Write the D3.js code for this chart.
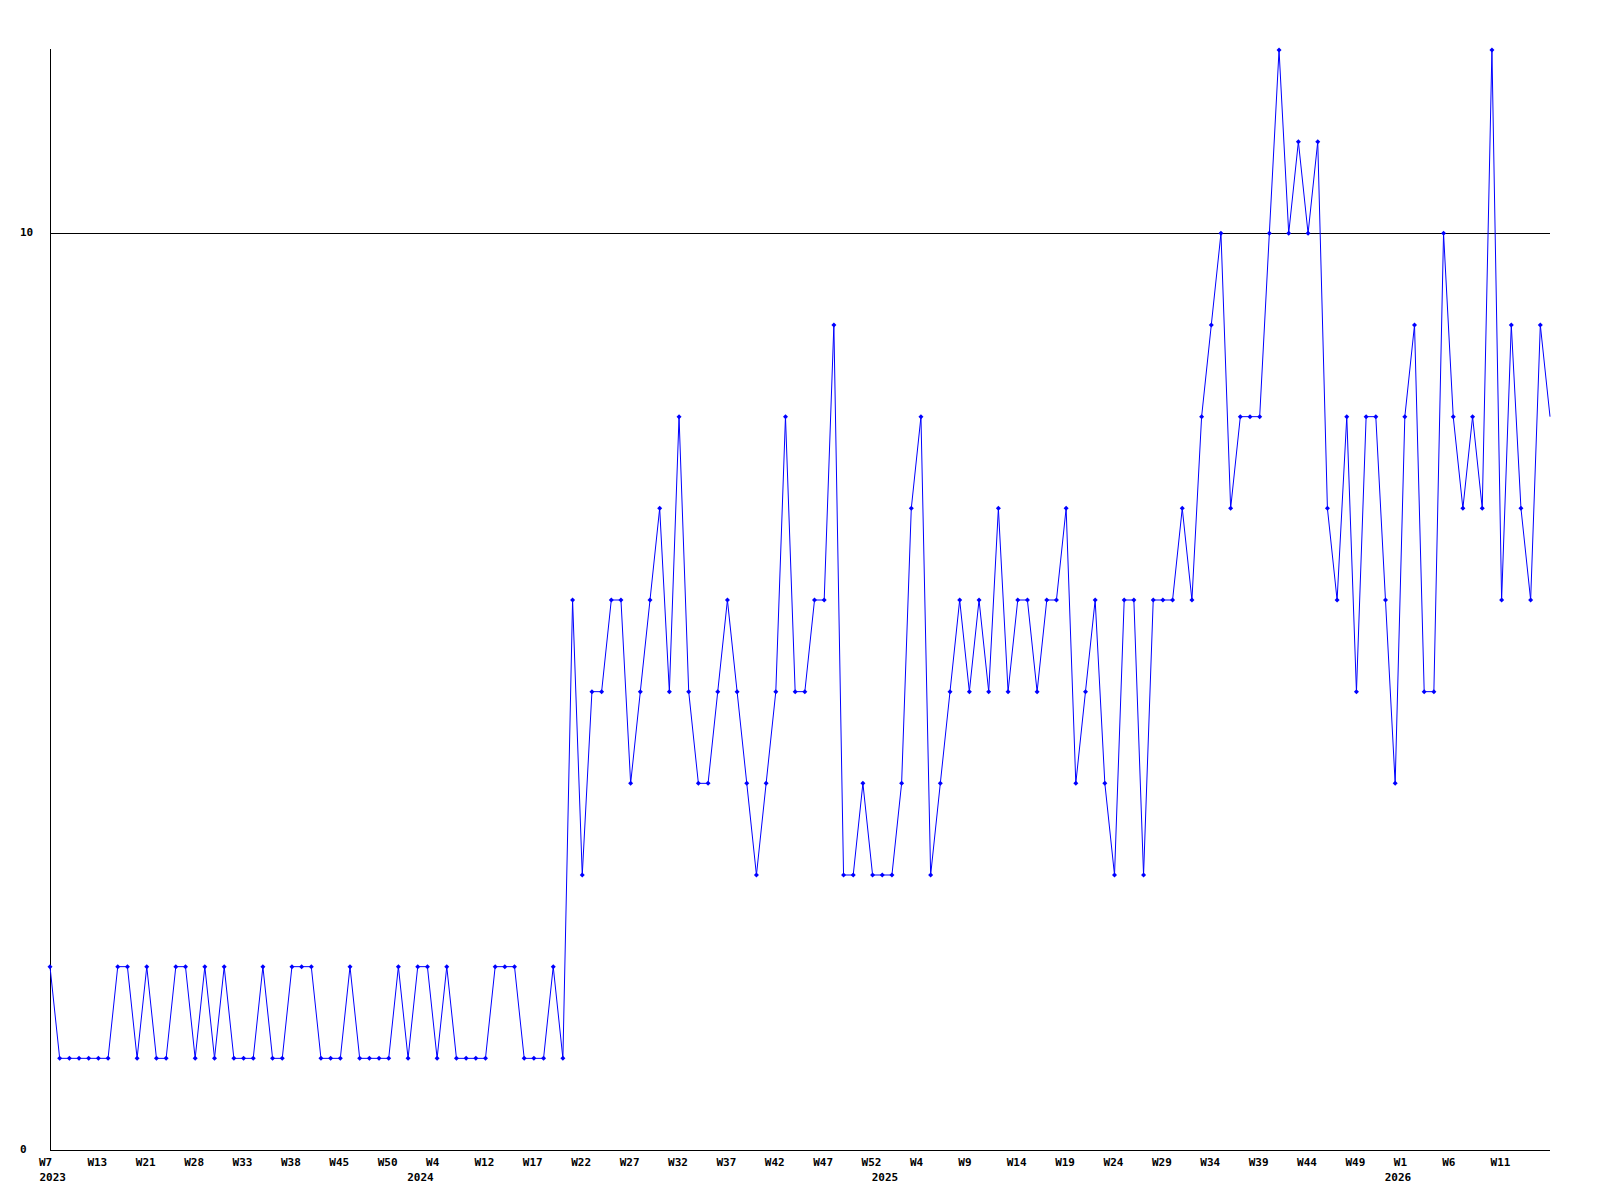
<!DOCTYPE html>
<html>
  <head>
    <meta charset="utf-8">
    <title>Weekly count</title>
    <script src="https://d3js.org/d3.v7.min.js"></script>
    <style>
      body { margin: 0; background: #fff; }
      svg { display: block; }
      .label { font-family: "DejaVu Sans Mono", monospace; font-weight: bold; font-size: 11px; fill: #000; }
    </style>
  </head>
  <body>
    <svg id="chart" width="1600" height="1200"></svg>
    <script>
      // weekly values, 2023 W7 onwards
      var values = [
        2, 1, 1, 1, 1, 1, 1, 2, 2, 1,
        2, 1, 1, 2, 2, 1, 2, 1, 2, 1,
        1, 1, 2, 1, 1, 2, 2, 2, 1, 1,
        1, 2, 1, 1, 1, 1, 2, 1, 2, 2,
        1, 2, 1, 1, 1, 1, 2, 2, 2, 1,
        1, 1, 2, 1, 6, 3, 5, 5, 6, 6,
        4, 5, 6, 7, 5, 8, 5, 4, 4, 5,
        6, 5, 4, 3, 4, 5, 8, 5, 5, 6,
        6, 9, 3, 3, 4, 3, 3, 3, 4, 7,
        8, 3, 4, 5, 6, 5, 6, 5, 7, 5,
        6, 6, 5, 6, 6, 7, 4, 5, 6, 4,
        3, 6, 6, 3, 6, 6, 6, 7, 6, 8,
        9, 10, 7, 8, 8, 8, 10, 12, 10, 11,
        10, 11, 7, 6, 8, 5, 8, 8, 6, 4,
        8, 9, 5, 5, 10, 8, 7, 8, 7, 12,
        6, 9, 7, 6, 9, 8
      ];
      // week labels, one for every fifth point
      var tickLabels = ["W7", "W13", "W21", "W28", "W33", "W38", "W45", "W50",
        "W4", "W12", "W17", "W22", "W27", "W32", "W37", "W42", "W47", "W52",
        "W4", "W9", "W14", "W19", "W24", "W29", "W34", "W39", "W44", "W49",
        "W1", "W6", "W11"];
      var yearLabels = ["2023", "2024", "2025", "2026"];
      var yearStart = [0, 38, 86, 139];
      var yTicks = [0, 10];

      var margin = { top: 50, right: 50, bottom: 50, left: 50 };
      var width = 1600, height = 1200;
      var svg = d3.select("#chart");

      var x = d3.scaleLinear()
        .domain([0, values.length - 1])
        .range([margin.left, width - margin.right]);
      var y = d3.scaleLinear()
        .domain([0, 12])
        .range([height - margin.bottom, margin.top]);

      // grid line at 10
      svg.append("g")
        .selectAll("line")
          .data(yTicks.filter(function(d) { return d > 0; }))
        .enter().append("line")
          .attr("x1", margin.left)
          .attr("x2", width - margin.right)
          .attr("y1", function(d) { return Math.round(y(d)) + 0.5; })
          .attr("y2", function(d) { return Math.round(y(d)) + 0.5; })
          .attr("stroke", "#000")
          .attr("stroke-width", 1);

      // axis lines
      svg.append("line")
        .attr("x1", margin.left + 0.5).attr("x2", margin.left + 0.5)
        .attr("y1", margin.top - 1).attr("y2", height - margin.bottom)
        .attr("stroke", "#000");
      svg.append("line")
        .attr("x1", margin.left).attr("x2", width - margin.right)
        .attr("y1", height - margin.bottom + 0.5).attr("y2", height - margin.bottom + 0.5)
        .attr("stroke", "#000");

      // y labels
      svg.append("g")
        .selectAll("text")
          .data(yTicks)
        .enter().append("text")
          .classed("label", true)
          .attr("x", 20)
          .attr("y", function(d) { return y(d); })
          .attr("dominant-baseline", "middle")
          .text(function(d) { return d; });

      // x labels
      svg.append("g")
        .selectAll("text")
          .data(tickLabels)
        .enter().append("text")
          .classed("label", true)
          .attr("x", function(d, i) { return x(i * 5) - 11; })
          .attr("y", height - margin.bottom + 16)
          .text(function(d) { return d; });
      svg.append("g")
        .selectAll("text")
          .data(yearLabels)
        .enter().append("text")
          .classed("label", true)
          .attr("x", function(d, i) { return x(yearStart[i]) - 10.5; })
          .attr("y", height - margin.bottom + 31)
          .text(function(d) { return d; });

      // series
      var line = d3.line()
        .x(function(d, i) { return x(i); })
        .y(function(d) { return y(d); });
      svg.append("path")
        .attr("d", line(values))
        .attr("fill", "none")
        .attr("stroke", "#0000ff")
        .attr("stroke-width", 1);

      // markers (last, unfinished week has none)
      svg.append("g")
        .selectAll("path")
          .data(values.slice(0, values.length - 1))
        .enter().append("path")
          .attr("d", function(d, i) {
            var cx = x(i), cy = y(d);
            return "M" + (cx - 2.5) + "," + cy + "L" + cx + "," + (cy - 2.5) +
              "L" + (cx + 2.5) + "," + cy + "L" + cx + "," + (cy + 2.5) + "Z";
          })
          .attr("fill", "#0000ff");
    </script>
  </body>
</html>
